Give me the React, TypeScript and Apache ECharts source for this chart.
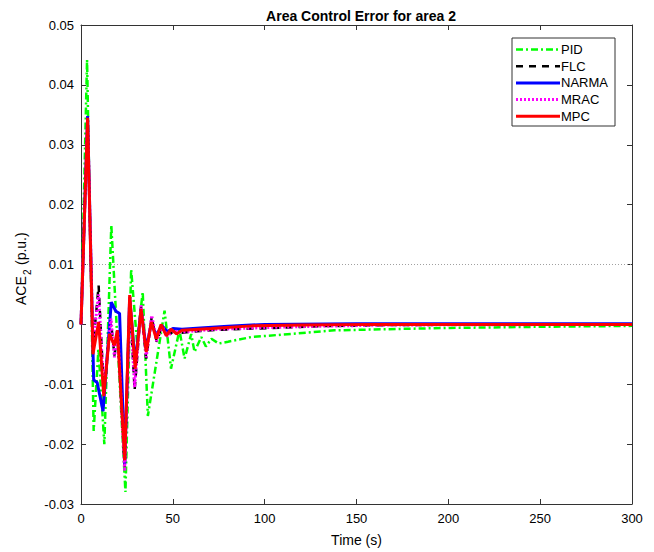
import React, { useEffect, useRef } from "react";
import * as echarts from "echarts";

// ---- data (time in s, ACE2 in p.u.) ----
const T_PID = [0, 3.3, 6.9, 9.5, 12.7, 16.5, 24.2, 27.3, 30.5, 33.6, 36.4, 45.5, 49, 53.6, 56.4, 60, 61.8, 65.5, 68, 71, 75, 80, 93, 114.5, 138, 174.5, 200, 250, 300];
const V_PID = [0, 0.0442, -0.0178, -0.004, -0.02, 0.0166, -0.028, 0.0092, -0.003, 0.0054, -0.0153, 0.0023, -0.0074, -0.001, -0.0057, -0.0016, -0.0046, -0.0021, -0.0037, -0.0024, -0.0032, -0.0029, -0.0021, -0.0016, -0.001, -0.00075, -0.0006, -0.0004, -0.00025];

const T_FLC = [0, 3.6, 6.5, 9.6, 12.4, 16.3, 18.2, 20, 23.8, 26.5, 29.2, 32.7, 35.5, 38.5, 41.2, 44, 47, 50, 55, 65, 75, 104, 130, 170, 300];
const V_FLC = [0, 0.034, -0.004, 0.0065, -0.011, 0.0005, -0.0052, -0.001, -0.024, 0.0045, -0.011, 0.003, -0.0057, 0.0012, -0.0029, -0.0003, -0.0021, -0.0012, -0.0014, -0.0011, -0.0009, -0.0006, -0.0003, -0.0001, 0];

const T_NARMA = [0, 3.6, 6.9, 8.8, 12.0, 16.5, 19, 21, 23.8, 26.5, 29.5, 32.7, 35.5, 38.3, 41, 44, 47, 50, 55, 65, 80, 100, 150, 300];
const V_NARMA = [0, 0.0348, -0.0093, -0.0097, -0.0145, 0.0037, 0.0022, 0.0018, -0.0233, 0.0045, -0.0065, 0.0025, -0.004, 0.0002, -0.0018, -0.0002, -0.0012, -0.0007, -0.0008, -0.0006, -0.0003, 0, 0.0001, 0.0001];

const T_MRAC = [0, 3.6, 6.5, 9.6, 12.4, 16.3, 18.2, 20, 23.8, 26.5, 29.2, 32.7, 35.5, 38.5, 41.2, 44, 47, 50, 55, 65, 75, 104, 130, 170, 300];
const V_MRAC = [0, 0.034, -0.003, 0.005, -0.011, 0.001, -0.0055, -0.0012, -0.0245, 0.0045, -0.0105, 0.0032, -0.0055, 0.0015, -0.0028, -0.0002, -0.002, -0.0011, -0.0013, -0.001, -0.0008, -0.0005, -0.0003, -0.0001, 0];

const T_MPC = [0, 3.6, 6.5, 9.6, 12.4, 15.5, 18.2, 19.8, 23.8, 26.5, 29.5, 32.7, 35.5, 38.3, 41, 43.6, 46.4, 49, 52, 55, 60, 71, 93, 120, 160, 300];
const V_MPC = [0, 0.0345, -0.005, 0.0004, -0.012, -0.0016, -0.0035, -0.001, -0.0227, 0.0049, -0.0074, 0.0026, -0.0046, 0.0004, -0.0024, 0, -0.0019, -0.0008, -0.0016, -0.001, -0.0009, -0.0007, -0.00025, -0.0001, 0, 0];

const REF_T = [0, 300];
const REF_V = [0.01, 0.01];

const LEGEND_NAMES = ["PID", "FLC", "NARMA", "MRAC", "MPC"];
const TITLE = "Area Control Error for area 2";
const X_NAME = "Time (s)";

const FONT = '"Liberation Sans", Arial, sans-serif';

const pairs = (t: number[], v: number[]) => t.map((x, i) => [x, v[i]]);

export default function App() {
  const ref = useRef<HTMLDivElement>(null);
  useEffect(() => {
    document.body.style.margin = "0";
    if (!ref.current) return;
    const chart = echarts.init(ref.current, null, { renderer: "svg" });

    const styles = [
      { color: "#00ff00", width: 2.5, type: [7, 3, 2, 3] },
      { color: "#000000", width: 2.5, type: [7, 6] },
      { color: "#0000ff", width: 3, type: "solid" },
      { color: "#ff00ff", width: 3, type: [2, 2] },
      { color: "#ff0000", width: 3, type: "solid" },
    ];
    const dataSets = [
      pairs(T_PID, V_PID),
      pairs(T_FLC, V_FLC),
      pairs(T_NARMA, V_NARMA),
      pairs(T_MRAC, V_MRAC),
      pairs(T_MPC, V_MPC),
    ];

    const axisLineStyle = { color: "#333333", width: 1 };
    const xCommon = {
      type: "value",
      min: 0,
      max: 300,
      interval: 50,
      splitLine: { show: false },
      axisLine: { show: true, onZero: false, lineStyle: axisLineStyle },
      axisTick: { show: true, inside: true, length: 5, lineStyle: axisLineStyle },
    };
    const yCommon = {
      type: "value",
      min: -0.03,
      max: 0.05,
      interval: 0.01,
      splitLine: { show: false },
      axisLine: { show: true, onZero: false, lineStyle: axisLineStyle },
      axisTick: { show: true, inside: true, length: 5, lineStyle: axisLineStyle },
    };

    // legend (drawn manually, MATLAB-style box)
    const lx = 512, ly = 38, lw = 103, lh = 88;
    const legendEls: any[] = [
      {
        type: "rect",
        shape: { x: lx, y: ly, width: lw, height: lh },
        style: { fill: "#ffffff", stroke: "#333333", lineWidth: 1 },
        z: 100,
      },
    ];
    LEGEND_NAMES.forEach((name, i) => {
      const yy = ly + 11.5 + i * 16.7;
      const s = styles[i];
      legendEls.push({
        type: "line",
        shape: { x1: lx + 4, y1: yy, x2: lx + 48, y2: yy },
        style: {
          stroke: s.color,
          lineWidth: s.width,
          lineDash: Array.isArray(s.type) ? s.type : null,
        },
        z: 101,
      });
      legendEls.push({
        type: "text",
        x: lx + 49,
        y: yy,
        style: { text: name, fill: "#000", font: `13px ${FONT}`, verticalAlign: "middle", align: "left" },
        z: 101,
      });
    });

    // y axis label with subscript
    const yLabel = {
      type: "group",
      x: 21,
      y: 305,
      rotation: Math.PI / 2,
      z: 100,
      children: [
        { type: "text", x: 0, y: 0, style: { text: "ACE", fill: "#000", font: `14px ${FONT}`, verticalAlign: "middle", align: "left" } },
        { type: "text", x: 30, y: 6, style: { text: "2", fill: "#000", font: `10px ${FONT}`, verticalAlign: "middle", align: "left" } },
        { type: "text", x: 40, y: 0, style: { text: "(p.u.)", fill: "#000", font: `14px ${FONT}`, verticalAlign: "middle", align: "left" } },
      ],
    };

    chart.setOption({
      animation: false,
      backgroundColor: "#ffffff",
      title: {
        text: TITLE,
        left: 356,
        top: 4,
        textAlign: "center",
        textStyle: { fontFamily: FONT, fontSize: 14, fontWeight: "bold", color: "#000" },
      },
      grid: { left: 81, right: 22, top: 25, bottom: 46, containLabel: false },
      xAxis: [
        {
          ...xCommon,
          position: "bottom",
          axisLabel: { color: "#000", fontSize: 13, fontFamily: FONT, margin: 8 },
          name: X_NAME,
          nameLocation: "middle",
          nameGap: 29,
          nameTextStyle: { color: "#000", fontSize: 14, fontFamily: FONT },
        },
        { ...xCommon, position: "top", axisLabel: { show: false } },
      ],
      yAxis: [
        {
          ...yCommon,
          position: "left",
          axisLabel: {
            color: "#000",
            fontSize: 13,
            fontFamily: FONT,
            margin: 7,
            formatter: (v: number) => (Math.abs(v) < 1e-9 ? "0" : v.toFixed(2)),
          },
        },
        { ...yCommon, position: "right", axisLabel: { show: false } },
      ],
      series: [
        {
          type: "line",
          name: "ref",
          data: pairs(REF_T, REF_V),
          symbol: "none",
          silent: true,
          lineStyle: { color: "#a0a0a0", width: 1, type: [1, 2] },
          z: 1,
        },
        ...dataSets.map((d, i) => ({
          type: "line",
          name: LEGEND_NAMES[i],
          data: d,
          symbol: "none",
          showSymbol: false,
          lineStyle: { color: styles[i].color, width: styles[i].width, type: styles[i].type },
          z: 2 + i,
        })),
      ],
      graphic: [...legendEls, yLabel],
    });
    return () => chart.dispose();
  }, []);
  return <div ref={ref} style={{ width: 654, height: 552 }} />;
}
